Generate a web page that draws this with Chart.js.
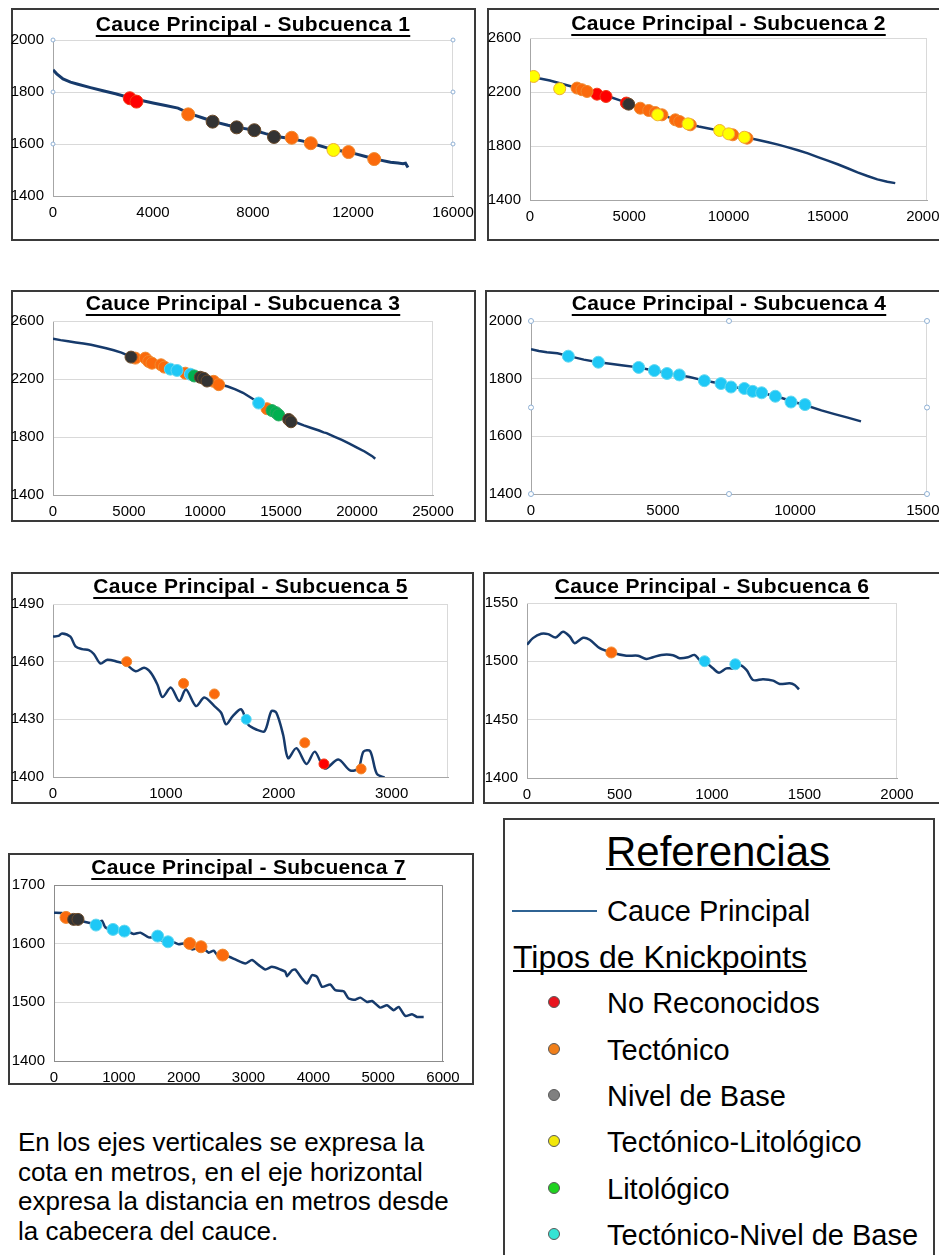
<!DOCTYPE html>
<html lang="es">
<head>
<meta charset="utf-8">
<title>Cauce Principal - Subcuencas</title>
<script src="https://cdn.jsdelivr.net/npm/chart.js@4.4.1/dist/chart.umd.min.js"></script>
<style>
  html, body { margin: 0; padding: 0; background: #fff; }
  body {
    position: relative; width: 939px; height: 1255px; overflow: hidden;
    font-family: "Liberation Sans", Arial, sans-serif; color: #000;
  }
  .panel { position: absolute; border: 2px solid #3a3a3a; box-sizing: border-box; }
  .panel canvas { position: absolute; left: -2px; top: -2px; }
  .titulo {
    position: absolute; font-weight: bold; font-size: 21px; line-height: 21px;
    letter-spacing: 0.3px; white-space: nowrap; transform: translateX(-50%);
    text-decoration: underline; text-decoration-thickness: 2px; text-underline-offset: 4px;
  }
  #leyenda {
    position: absolute; left: 503px; top: 818px; width: 432px; height: 460px;
    border: 2px solid #3a3a3a; box-sizing: border-box;
  }
  #leyenda div { position: absolute; white-space: nowrap; }
  #leyenda .ref {
    left: 213px; top: 11px; font-size: 42px; line-height: 42px; transform: translateX(-50%);
    text-decoration: underline; text-decoration-thickness: 2px; text-underline-offset: 2px;
  }
  #leyenda .linea { left: 7px; top: 90px; width: 85px; height: 2px; background: #2f6393; }
  #leyenda .item { left: 102px; font-size: 29px; line-height: 29px; }
  #leyenda .tipos {
    left: 8px; top: 121px; font-size: 32px; line-height: 32px;
    text-decoration: underline; text-decoration-thickness: 2px; text-underline-offset: 2px;
    text-decoration-skip-ink: none;
  }
  #leyenda .punto {
    left: 43px; width: 10px; height: 10px; border-radius: 50%; border: 1px solid #5a5a5a;
  }
  #nota {
    position: absolute; left: 18px; top: 1128px; font-size: 26px; line-height: 29.5px;
    white-space: nowrap;
  }
</style>
</head>
<body>

<div id="leyenda"></div>
<div id="nota">En los ejes verticales se expresa la<br>cota en metros, en el eje horizontal<br>expresa la distancia en metros desde<br>la cabecera del cauce.</div>

<script>
// ---------- Datos (distancia desde la cabecera en m, cota en m) ----------

// Subcuenca 1
const dist1 = [0, 150, 400, 700, 1000, 1500, 2000, 2500, 3000, 3500, 4000, 4500, 5000, 5500, 6000, 6500, 7000, 7500, 8000, 8500, 9000, 9500, 10000, 10500, 11000, 11500, 12000, 12500, 13000, 13500, 13800, 14000, 14100, 14200];
const cota1 = [1885, 1870, 1850, 1838, 1830, 1817, 1805, 1793, 1780, 1768, 1758, 1748, 1738, 1716, 1700, 1684, 1672, 1662, 1654, 1640, 1628, 1621, 1611, 1598, 1584, 1574, 1565, 1552, 1540, 1530, 1527, 1524, 1526, 1510];
const kp1Dist = [3072, 3339, 5409, 6384, 7346, 8053, 8841, 9549, 10310, 11219, 11820, 12848];
const kp1Cota = [1776, 1763, 1714, 1686, 1664, 1653, 1627, 1624, 1603, 1577, 1569, 1542];
const kp1Tipo = ['NR', 'NR', 'T', 'NB', 'NB', 'NB', 'NB', 'T', 'T', 'TL', 'T', 'T'];

// Subcuenca 2
const dist2 = [150, 500, 1000, 1500, 2000, 2500, 3000, 3500, 4000, 4500, 5000, 5500, 6000, 6500, 7000, 7500, 8000, 8500, 9000, 9500, 10000, 10500, 11000, 11500, 12000, 12500, 13000, 13500, 14000, 14500, 15000, 15500, 16000, 16500, 17000, 17500, 18000, 18400];
const cota2 = [2318, 2300, 2285, 2265, 2245, 2225, 2208, 2190, 2165, 2140, 2112, 2085, 2062, 2040, 2012, 1987, 1962, 1945, 1930, 1916, 1893, 1876, 1860, 1845, 1828, 1810, 1790, 1768, 1745, 1718, 1692, 1665, 1635, 1605, 1578, 1553, 1535, 1525];
const kp2Dist = [185, 1495, 2368, 2620, 2872, 3375, 3829, 4853, 4971, 5558, 5978, 6314, 6650, 6432, 7322, 7540, 8077, 7960, 9555, 10210, 10008, 10932, 10798];
const kp2Cota = [2315, 2224, 2229, 2217, 2204, 2184, 2167, 2118, 2110, 2080, 2063, 2048, 2031, 2031, 1994, 1981, 1957, 1964, 1915, 1883, 1890, 1858, 1865];
const kp2Tipo = ['TL', 'TL', 'T', 'T', 'T', 'NR', 'NR', 'NR', 'NB', 'T', 'T', 'T', 'T', 'TL', 'T', 'T', 'T', 'TL', 'TL', 'T', 'TL', 'T', 'TL'];

// Subcuenca 3
const dist3 = [0, 500, 1000, 1500, 2000, 2500, 3000, 3500, 4000, 4500, 5000, 5500, 6000, 6500, 7000, 7500, 8000, 8500, 9000, 9500, 10000, 10500, 11000, 11500, 12000, 12500, 13000, 13500, 14000, 14500, 15000, 15500, 16000, 16500, 17000, 17500, 17800, 18000, 18500, 19000, 19500, 20000, 20500, 21000, 21200];
const cota3 = [2478, 2468, 2460, 2452, 2445, 2436, 2424, 2412, 2398, 2382, 2360, 2346, 2333, 2316, 2300, 2284, 2265, 2250, 2236, 2220, 2200, 2180, 2162, 2148, 2128, 2105, 2072, 2040, 2003, 1978, 1950, 1922, 1900, 1880, 1862, 1845, 1832, 1827, 1803, 1780, 1755, 1727, 1700, 1668, 1650];
const kp3Dist = [5132, 5417, 6075, 6294, 6513, 7105, 7325, 7719, 8158, 8706, 9035, 9298, 9693, 9912, 10132, 10570, 10899, 13530, 14079, 14408, 14671, 14846, 15504, 15658];
const kp3Cota = [2351, 2344, 2344, 2321, 2309, 2298, 2282, 2268, 2259, 2240, 2233, 2221, 2212, 2205, 2186, 2184, 2161, 2034, 1995, 1982, 1968, 1952, 1921, 1905];
const kp3Tipo = ['NB', 'T', 'T', 'T', 'T', 'T', 'T', 'TNB', 'TNB', 'T', 'TNB', 'L', 'NB', 'NB', 'NB', 'T', 'T', 'TNB', 'T', 'L', 'L', 'L', 'NB', 'NB'];

// Subcuenca 4
const dist4 = [0, 300, 600, 1000, 1400, 2000, 2500, 3000, 3500, 4000, 4500, 5000, 5500, 6000, 6500, 7000, 7500, 8000, 8500, 9000, 9500, 10000, 10400, 11000, 11500, 12000, 12500];
const cota4 = [1902, 1896, 1892, 1888, 1879, 1866, 1858, 1852, 1846, 1840, 1831, 1822, 1814, 1806, 1795, 1786, 1774, 1766, 1755, 1745, 1733, 1718, 1708, 1690, 1677, 1665, 1652];
const kp4Dist = [1414, 2551, 4078, 4672, 5152, 5619, 6566, 7197, 7576, 8081, 8396, 8737, 9255, 9848, 10379];
const kp4Cota = [1878, 1857, 1839, 1828, 1818, 1813, 1793, 1783, 1771, 1766, 1756, 1751, 1739, 1719, 1710];
const kp4Tipo = ['TNB', 'TNB', 'TNB', 'TNB', 'TNB', 'TNB', 'TNB', 'TNB', 'TNB', 'TNB', 'TNB', 'TNB', 'TNB', 'TNB', 'TNB'];

// Subcuenca 5
const dist5 = [0, 50, 80, 154, 199, 258, 318, 362, 421, 481, 570, 644, 733, 807, 866, 926, 970, 1045, 1119, 1178, 1267, 1341, 1430, 1490, 1534, 1593, 1668, 1727, 1801, 1875, 1935, 1979, 2039, 2083, 2157, 2246, 2320, 2409, 2528, 2632, 2706, 2751, 2810, 2869, 2938];
const cota5 = [1473.1, 1473.4, 1474.7, 1473, 1468, 1466.5, 1466, 1464, 1459, 1461, 1460, 1458.7, 1455, 1456.8, 1454.3, 1448, 1441.6, 1446.5, 1439.5, 1445.6, 1436.9, 1441.3, 1436.9, 1433.4, 1427.4, 1431.7, 1435.2, 1427.4, 1424.7, 1423.8, 1434.3, 1433.4, 1422, 1409.8, 1415, 1406.8, 1413.2, 1404.4, 1409.1, 1403.5, 1404.4, 1413.2, 1413.5, 1401.7, 1399.7];
const kp5Dist = [653, 1157, 1430, 1712, 2231, 2401, 2730];
const kp5Cota = [1460, 1448.7, 1443.2, 1430, 1417.8, 1406.8, 1404.2];
const kp5Tipo = ['T', 'T', 'T', 'TNB', 'T', 'NR', 'T'];

// Subcuenca 6
const dist6 = [0, 32, 77, 114, 155, 195, 231, 258, 303, 339, 393, 456, 537, 600, 645, 681, 726, 789, 825, 870, 906, 933, 962, 1005, 1038, 1078, 1114, 1146, 1186, 1222, 1276, 1330, 1366, 1420, 1447, 1470];
const cota6 = [1514.2, 1519.9, 1523.6, 1523.3, 1520.5, 1525.3, 1521.3, 1515.6, 1520.2, 1518.5, 1511.3, 1507.6, 1504.8, 1504.8, 1502, 1503.5, 1505.5, 1505.3, 1502.7, 1503.5, 1505.5, 1501.1, 1499.7, 1494, 1490.3, 1494, 1494, 1497, 1492.6, 1484, 1484.6, 1483.5, 1480.6, 1481.2, 1479.7, 1476];
const kp6Dist = [456, 960, 1126];
const kp6Cota = [1507.6, 1500.1, 1497.5];
const kp6Tipo = ['T', 'TNB', 'TNB'];

// Subcuenca 7
const dist7 = [0, 123, 226, 380, 535, 638, 740, 792, 946, 1100, 1229, 1332, 1460, 1589, 1717, 1820, 1923, 2026, 2128, 2283, 2386, 2463, 2540, 2668, 2797, 2951, 3054, 3157, 3260, 3362, 3491, 3568, 3594, 3671, 3722, 3825, 3902, 3979, 4057, 4134, 4262, 4339, 4468, 4545, 4648, 4725, 4828, 4905, 5033, 5136, 5239, 5316, 5419, 5522, 5599, 5702];
const cota7 = [1652.8, 1652.2, 1646, 1640, 1635.7, 1633.4, 1639, 1627.8, 1623, 1623, 1616.5, 1618.8, 1610.8, 1610.8, 1601.7, 1603.4, 1598.9, 1600.6, 1590.3, 1593.7, 1584.6, 1588, 1577.6, 1578.8, 1573.1, 1566.2, 1572, 1563.4, 1556, 1560.5, 1556, 1552, 1544.6, 1554.5, 1556, 1540.6, 1532, 1546.3, 1543.5, 1526.4, 1530.4, 1520.7, 1518.9, 1506.4, 1504.6, 1508, 1500.6, 1502.3, 1491, 1495, 1486.5, 1492.2, 1476.8, 1479.7, 1475.1, 1475.1];
const kp7Dist = [185, 303, 370, 648, 910, 1085, 1599, 1758, 2093, 2267, 2602];
const kp7Cota = [1644.8, 1641.4, 1641.4, 1631.7, 1624.3, 1621.4, 1612.9, 1603.2, 1600.4, 1594.7, 1580.5];
const kp7Tipo = ['T', 'NB', 'NB', 'TNB', 'TNB', 'TNB', 'TNB', 'TNB', 'T', 'T', 'T'];

// Tipos de knickpoints (orden de la leyenda)
const tipos = ['NR', 'T', 'NB', 'TL', 'L', 'TNB'];
const nombresTipo = ['No Reconocidos', 'Tectónico', 'Nivel de Base', 'Tectónico-Litológico', 'Litológico', 'Tectónico-Nivel de Base'];

// ---------- Estilos ----------
const FUENTE = '"Liberation Sans", Arial, sans-serif';
const COLOR_LINEA = '#163a6b';
const colorTipo = { NR: '#ff0000', T: '#fb6a0c', NB: '#333333', TL: '#ffff00', L: '#00b050', TNB: '#1ec8f6' };
const bordeTipo = { NR: '#f23a16', T: '#f08a30', NB: '#6a4a2a', TL: '#f0b030', L: '#2aa860', TNB: '#64d8f0' };
const capaTipo = { NR: 6, T: 5, TNB: 4, L: 3, NB: 2, TL: 1 };   // menor = encima
const colorLeyenda = ['#e8141e', '#f07f1a', '#808080', '#f2e80a', '#1fd21f', '#35e4d4'];

// marco del área de trazado + "manijas" de selección como en el original
const marcoPlugin = {
  id: 'marco',
  beforeDatasetsDraw(chart, args, opts) {
    const a = chart.chartArea, ctx = chart.ctx;
    ctx.save();
    ctx.strokeStyle = opts.color || '#d9d9d9';
    ctx.lineWidth = 1;
    ctx.beginPath();
    ctx.moveTo(a.left, a.top + 0.5);
    ctx.lineTo(a.right - 0.5, a.top + 0.5);
    ctx.lineTo(a.right - 0.5, a.bottom);
    ctx.stroke();
    ctx.restore();
  },
  afterDraw(chart, args, opts) {
    if (!opts.manijas) return;
    const a = chart.chartArea, ctx = chart.ctx;
    let pts = [];
    if (opts.manijas === 'rejilla') {
      const y = chart.scales.y;
      y.ticks.forEach(t => {
        if (t.value > y.min) {
          const py = y.getPixelForValue(t.value);
          pts.push([a.left, py], [a.right, py]);
        }
      });
    } else {
      const cx = (a.left + a.right) / 2, cy = (a.top + a.bottom) / 2;
      pts = [[a.left, a.top], [cx, a.top], [a.right, a.top], [a.left, cy], [a.right, cy],
             [a.left, a.bottom], [cx, a.bottom], [a.right, a.bottom]];
    }
    ctx.save();
    ctx.fillStyle = '#fff';
    ctx.strokeStyle = '#8fb0d4';
    ctx.lineWidth = 1;
    pts.forEach(p => {
      ctx.beginPath();
      ctx.arc(p[0], p[1], opts.manijas === 'rejilla' ? 2 : 2.5, 0, Math.PI * 2);
      ctx.fill();
      ctx.stroke();
    });
    ctx.restore();
  }
};

// caja = [izq, arriba, ancho, alto] del recuadro; area = [x0, x1, y0, y1] del trazado (px de página)
const paneles = [
  { n: 1, dist: dist1, cota: cota1, kd: kp1Dist, kc: kp1Cota, kt: kp1Tipo, caja: [11, 8, 465, 233], area: [53, 453, 40, 196], base: 31,
    xMax: 16000, xPaso: 4000, yMin: 1400, yMax: 2000, yPaso: 200, radio: 6.5, grosor: 3, manijas: 'rejilla' },
  { n: 2, dist: dist2, cota: cota2, kd: kp2Dist, kc: kp2Cota, kt: kp2Tipo, caja: [487, 8, 460, 233], area: [530, 927, 38, 200], base: 30,
    xMax: 20000, xPaso: 5000, yMin: 1400, yMax: 2600, yPaso: 400, radio: 6, grosor: 2.5 },
  { n: 3, dist: dist3, cota: cota3, kd: kp3Dist, kc: kp3Cota, kt: kp3Tipo, caja: [11, 290, 465, 232], area: [53, 433, 321, 495], base: 310,
    xMax: 25000, xPaso: 5000, yMin: 1400, yMax: 2600, yPaso: 400, radio: 6, grosor: 2.5 },
  { n: 4, dist: dist4, cota: cota4, kd: kp4Dist, kc: kp4Cota, kt: kp4Tipo, caja: [485, 290, 460, 232], area: [531, 927, 321, 494], base: 310,
    xMax: 15000, xPaso: 5000, yMin: 1400, yMax: 2000, yPaso: 200, radio: 6, grosor: 2.5, manijas: 'caja' },
  { n: 5, dist: dist5, cota: cota5, kd: kp5Dist, kc: kp5Cota, kt: kp5Tipo, caja: [11, 572, 463, 232], area: [53, 448, 604, 777], base: 593,
    xMax: 3500, xPaso: 1000, yMin: 1400, yMax: 1490, yPaso: 30, radio: 5, grosor: 2.5, tension: 0.3 },
  { n: 6, dist: dist6, cota: cota6, kd: kp6Dist, kc: kp6Cota, kt: kp6Tipo, caja: [483, 572, 460, 232], area: [527, 897, 603, 778], base: 593,
    xMax: 2000, xPaso: 500, yMin: 1400, yMax: 1550, yPaso: 50, radio: 5.5, grosor: 2.5, tension: 0.3 },
  { n: 7, dist: dist7, cota: cota7, kd: kp7Dist, kc: kp7Cota, kt: kp7Tipo, caja: [8, 853, 466, 232], area: [54, 443, 885, 1061], base: 874,
    xMax: 6000, xPaso: 1000, yMin: 1400, yMax: 1700, yPaso: 100, radio: 6, grosor: 2.5, tension: 0.2, ejes: '#8c8c8c' }
];

function crearPanel(p) {
  const [L, T, W, H] = p.caja;
  const caja = document.createElement('div');
  caja.className = 'panel';
  caja.style.left = L + 'px';
  caja.style.top = T + 'px';
  caja.style.width = W + 'px';
  caja.style.height = H + 'px';
  document.body.appendChild(caja);

  const cv = document.createElement('canvas');
  cv.width = W;
  cv.height = H;
  caja.appendChild(cv);

  const titulo = document.createElement('div');
  titulo.className = 'titulo';
  titulo.textContent = 'Cauce Principal - Subcuenca ' + p.n;
  titulo.style.left = ((p.area[0] + p.area[1]) / 2) + 'px';
  titulo.style.top = (p.base - 18) + 'px';
  document.body.appendChild(titulo);

  const datasets = [{
    label: 'Cauce Principal',
    data: p.dist.map((d, i) => ({ x: d, y: p.cota[i] })),
    showLine: true,
    borderColor: COLOR_LINEA,
    borderWidth: p.grosor,
    pointRadius: 0,
    tension: p.tension || 0,
    order: 10
  }];
  tipos.forEach(tp => {
    const pts = [];
    p.kd.forEach((d, i) => { if (p.kt[i] === tp) pts.push({ x: d, y: p.kc[i] }); });
    if (pts.length) {
      datasets.push({
        label: tp,
        data: pts,
        backgroundColor: colorTipo[tp],
        borderColor: bordeTipo[tp],
        borderWidth: 1,
        pointRadius: p.radio,
        order: capaTipo[tp]
      });
    }
  });

  const anchoEjeY = p.area[0] - L;
  const altoEjeX = T + H - p.area[3];
  const colorEjes = p.ejes || '#a6a6a6';
  const fuenteTicks = { family: FUENTE, size: 15 };

  new Chart(cv, {
    type: 'scatter',
    data: { datasets },
    options: {
      responsive: false,
      animation: false,
      layout: { padding: { left: 0, top: p.area[2] - T, right: W - (p.area[1] - L), bottom: 0 } },
      plugins: {
        legend: { display: false },
        tooltip: { enabled: false },
        marco: { color: p.ejes || '#d9d9d9', manijas: p.manijas }
      },
      scales: {
        x: {
          type: 'linear', min: 0, max: p.xMax,
          grid: { display: false, drawTicks: false },
          border: { display: true, color: colorEjes, width: 1 },
          ticks: {
            stepSize: p.xPaso, autoSkip: false, maxRotation: 0,
            color: '#000', font: fuenteTicks, padding: 8,
            callback: v => String(v)
          },
          afterBuildTicks(s) {
            // marcas cada xPaso, sin añadir el máximo si no cae en un múltiplo
            const t = [];
            for (let v = 0; v <= p.xMax; v += p.xPaso) t.push({ value: v });
            s.ticks = t;
          },
          afterFit(s) { s.height = altoEjeX; s.paddingLeft = 0; s.paddingRight = 0; }
        },
        y: {
          min: p.yMin, max: p.yMax,
          grid: { color: '#d9d9d9', drawTicks: false },
          border: { display: true, color: colorEjes, width: 1 },
          ticks: {
            stepSize: p.yPaso, autoSkip: false, color: '#000', font: fuenteTicks, padding: 9,
            callback: v => String(v)
          },
          afterFit(s) { s.width = anchoEjeY; s.paddingTop = 0; s.paddingBottom = 0; }
        }
      }
    },
    plugins: [marcoPlugin]
  });
}

paneles.forEach(crearPanel);

// ---------- Leyenda "Referencias" ----------
const leyenda = document.getElementById('leyenda');
function agregar(clase, texto, estilo) {
  const d = document.createElement('div');
  d.className = clase;
  if (texto) d.textContent = texto;
  Object.assign(d.style, estilo || {});
  leyenda.appendChild(d);
  return d;
}
agregar('ref', 'Referencias');
agregar('linea');
agregar('item', 'Cauce Principal', { top: '77px' });
agregar('tipos', 'Tipos de Knickpoints');
const centrosY = [1002, 1049, 1095, 1141, 1188, 1234];
nombresTipo.forEach((nombre, i) => {
  const cy = centrosY[i] - 820;
  agregar('punto', '', { top: (cy - 6) + 'px', background: colorLeyenda[i] });
  agregar('item', nombre, { top: (cy + 11 - 24.5) + 'px' });
});
</script>
</body>
</html>
